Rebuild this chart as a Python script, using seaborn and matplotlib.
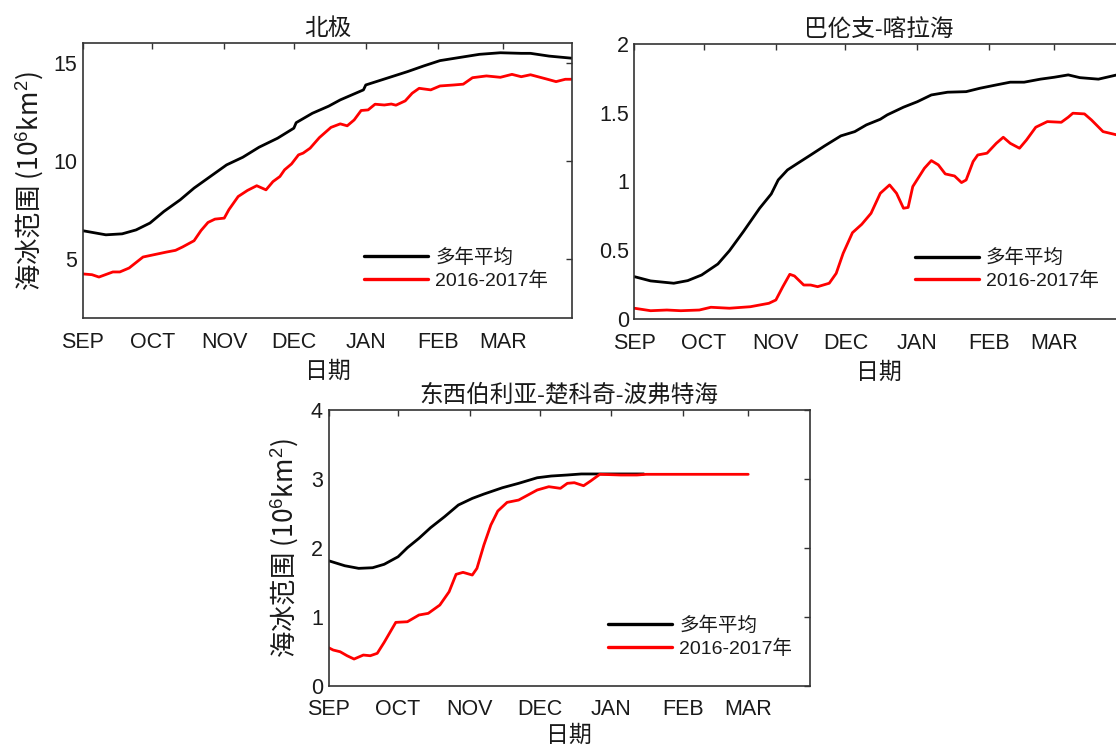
import matplotlib
matplotlib.use("Agg")
import matplotlib.pyplot as plt
import seaborn as sns

# ---------------- data (day offset from 1 Sep 2016, sea-ice extent 10^6 km^2) -------------
MONTH_POS = [0, 30, 61, 91, 122, 153, 181]
MONTH_LABELS = ["SEP", "OCT", "NOV", "DEC", "JAN", "FEB", "MAR"]

TITLES = ["北极", "巴伦支-喀拉海", "东西伯利亚-楚科奇-波弗特海"]
SERIES_NAMES = ["多年平均", "2016-2017年"]
XLABEL = "日期"
YLABEL = "海冰范围 (10$^{6}$km$^{2}$)"

# Arctic
arc_avg_day = [0, 10, 17, 23, 29, 35, 42, 48, 55, 62, 69, 76, 84, 91, 92, 99, 106, 111,
               121, 122, 131, 140, 147, 154, 163, 171, 180, 189, 193, 201, 211]
arc_avg_val = [6.46, 6.25, 6.30, 6.50, 6.85, 7.44, 8.03, 8.63, 9.22, 9.81, 10.2, 10.71,
               11.17, 11.68, 11.96, 12.44, 12.8, 13.12, 13.63, 13.88, 14.22, 14.56, 14.85,
               15.12, 15.29, 15.44, 15.52, 15.49, 15.49, 15.35, 15.24]
arc_1617_day = [0, 4, 7, 13, 16, 20, 26, 32, 36, 40, 43, 48, 51, 54, 57, 61, 63, 67, 71, 75,
                79, 82, 85, 87, 90, 93, 95, 98, 102, 107, 111, 114, 117, 120, 123, 126, 130,
                133, 135, 139, 142, 145, 150, 154, 160, 164, 168, 174, 180, 185, 189, 193,
                200, 204, 208, 211]
arc_1617_val = [4.26, 4.22, 4.10, 4.36, 4.36, 4.56, 5.12, 5.27, 5.37, 5.46, 5.63, 5.95,
                6.47, 6.88, 7.05, 7.10, 7.53, 8.20, 8.51, 8.75, 8.54, 8.96, 9.22, 9.56,
                9.86, 10.32, 10.41, 10.66, 11.2, 11.72, 11.9, 11.8, 12.1, 12.58, 12.61,
                12.9, 12.86, 12.91, 12.85, 13.07, 13.46, 13.71, 13.63, 13.83, 13.88, 13.92,
                14.25, 14.34, 14.27, 14.42, 14.30, 14.40, 14.18, 14.05, 14.17, 14.17]

# Barents-Kara Sea
bk_avg_day = [0, 7, 17, 23, 29, 36, 41, 47, 54, 59, 62, 66, 70, 76, 82, 89, 95, 100, 106,
              109, 116, 122, 128, 135, 143, 149, 156, 162, 168, 175, 181, 187, 192, 200, 208]
bk_avg_val = [0.306, 0.275, 0.258, 0.277, 0.318, 0.398, 0.495, 0.634, 0.804, 0.908, 1.01,
              1.083, 1.127, 1.192, 1.258, 1.331, 1.362, 1.411, 1.452, 1.484, 1.54, 1.58,
              1.629, 1.649, 1.653, 1.678, 1.702, 1.722, 1.722, 1.744, 1.758, 1.775, 1.755,
              1.744, 1.775]
bk_1617_day = [0, 7, 14, 20, 28, 33, 41, 50, 58, 61, 64, 67, 69, 73, 76, 79, 84, 87, 90, 94,
               98, 102, 106, 110, 113, 116, 118, 120, 125, 128, 131, 134, 138, 141, 143,
               146, 148, 152, 156, 159, 162, 166, 169, 173, 178, 184, 187, 189, 194, 197,
               202, 208]
bk_1617_val = [0.076, 0.058, 0.063, 0.058, 0.063, 0.083, 0.076, 0.087, 0.112, 0.136, 0.233,
               0.323, 0.311, 0.245, 0.245, 0.233, 0.258, 0.33, 0.476, 0.626, 0.687, 0.767,
               0.913, 0.974, 0.913, 0.804, 0.81, 0.962, 1.095, 1.151, 1.12, 1.054, 1.039,
               0.991, 1.01, 1.144, 1.192, 1.205, 1.277, 1.321, 1.277, 1.241, 1.301, 1.394,
               1.435, 1.43, 1.467, 1.496, 1.491, 1.447, 1.362, 1.338]

# East Siberian-Chukchi-Beaufort Sea
ess_avg_day = [0, 7, 13, 19, 24, 30, 34, 39, 44, 50, 56, 62, 67, 75, 82, 90, 96, 103, 109,
               117, 136]
ess_avg_val = [1.814, 1.741, 1.703, 1.712, 1.762, 1.872, 2.003, 2.14, 2.294, 2.453, 2.624,
               2.72, 2.783, 2.875, 2.939, 3.02, 3.045, 3.06, 3.075, 3.075, 3.075]
ess_1617_day = [0, 2, 5, 8, 11, 15, 18, 21, 24, 29, 34, 39, 43, 48, 52, 55, 58, 62, 64, 67,
                70, 73, 77, 82, 86, 90, 95, 100, 103, 106, 110, 113, 117, 126, 133, 137, 181]
ess_1617_val = [0.55, 0.516, 0.491, 0.433, 0.385, 0.443, 0.433, 0.468, 0.628, 0.918, 0.927,
                1.025, 1.049, 1.17, 1.363, 1.616, 1.645, 1.606, 1.703, 2.042, 2.333, 2.536,
                2.662, 2.696, 2.769, 2.842, 2.89, 2.866, 2.939, 2.948, 2.904, 2.972, 3.07,
                3.06, 3.06, 3.07, 3.07]

ARC_YTICKS = [5, 10, 15]
ARC_YLABELS = ["5", "10", "15"]
BK_YTICKS = [0, 0.5, 1, 1.5, 2]
BK_YLABELS = ["0", "0.5", "1", "1.5", "2"]
ESS_YTICKS = [0, 1, 2, 3, 4]
ESS_YLABELS = ["0", "1", "2", "3", "4"]

# ---------------- style ----------------
sns.set_style("white")
plt.rcParams["font.family"] = ["Liberation Sans", "Noto Sans CJK SC"]
plt.rcParams["mathtext.fontset"] = "custom"
plt.rcParams["mathtext.rm"] = "Liberation Sans"
plt.rcParams["mathtext.it"] = "Liberation Sans:italic"
plt.rcParams["axes.unicode_minus"] = False

AX_COLOR = "#333333"
TXT_COLOR = "#1a1a1a"

fig = plt.figure(figsize=(11.16, 7.47), dpi=100)
fig.patch.set_facecolor("white")

ax1 = fig.add_axes([0.0741, 0.5739, 0.4387, 0.3681])
ax2 = fig.add_axes([0.5684, 0.5734, 0.4387, 0.3677])
ax3 = fig.add_axes([0.2944, 0.0823, 0.4315, 0.3684])


def draw(ax, d_avg, v_avg, d_new, v_new, title, xlim, ylim, yt, ytl, ylabel, leg_xy,
         ylab_x, xlab_y):
    sns.lineplot(x=d_avg, y=v_avg, ax=ax, color="black", linewidth=2.0,
                 label=SERIES_NAMES[0], estimator=None, sort=False)
    sns.lineplot(x=d_new, y=v_new, ax=ax, color="#ff0000", linewidth=2.0,
                 label=SERIES_NAMES[1], estimator=None, sort=False)
    ax.set_xlim(*xlim)
    ax.set_ylim(*ylim)
    ax.set_xticks(MONTH_POS, MONTH_LABELS)
    ax.set_yticks(yt, ytl)
    ax.tick_params(axis="both", direction="in", length=4.5, width=1.0, color=AX_COLOR,
                   labelsize=15.5, labelcolor=TXT_COLOR, top=True, right=True)
    ax.tick_params(axis="x", pad=10)
    ax.tick_params(axis="y", pad=4)
    for s in ax.spines.values():
        s.set_visible(True)
        s.set_color(AX_COLOR)
        s.set_linewidth(1.2)
    ax.set_title(title, fontsize=17, color=TXT_COLOR, pad=6)
    ax.set_xlabel(XLABEL, fontsize=16.5, color=TXT_COLOR)
    ax.xaxis.set_label_coords(0.5, xlab_y)
    if ylabel:
        ax.set_ylabel(ylabel, fontsize=19, color=TXT_COLOR, family=["Noto Sans CJK SC"])
        ax.yaxis.set_label_coords(ylab_x, 0.5)
    else:
        ax.set_ylabel("")
    leg = ax.legend(loc="center left", bbox_to_anchor=leg_xy, frameon=False,
                    fontsize=14, handlelength=3.3, handletextpad=0.35,
                    labelspacing=0.22, borderpad=0, borderaxespad=0)
    for t in leg.get_texts():
        t.set_color(TXT_COLOR)
    for h in leg.get_lines():
        h.set_linewidth(2.4)


draw(ax1, arc_avg_day, arc_avg_val, arc_1617_day, arc_1617_val, TITLES[0],
     (0, 211), (2, 16), ARC_YTICKS, ARC_YLABELS, YLABEL, (0.575, 0.178), -0.078, -0.152)
draw(ax2, bk_avg_day, bk_avg_val, bk_1617_day, bk_1617_val, TITLES[1],
     (0, 211), (0, 2), BK_YTICKS, BK_YLABELS, None, (0.573, 0.179), None, -0.152)
draw(ax3, ess_avg_day, ess_avg_val, ess_1617_day, ess_1617_val, TITLES[2],
     (0, 207.7), (0, 4), ESS_YTICKS, ESS_YLABELS, YLABEL, (0.581, 0.176), -0.06, -0.14)

fig.savefig("out.png", dpi=100, facecolor="white")
